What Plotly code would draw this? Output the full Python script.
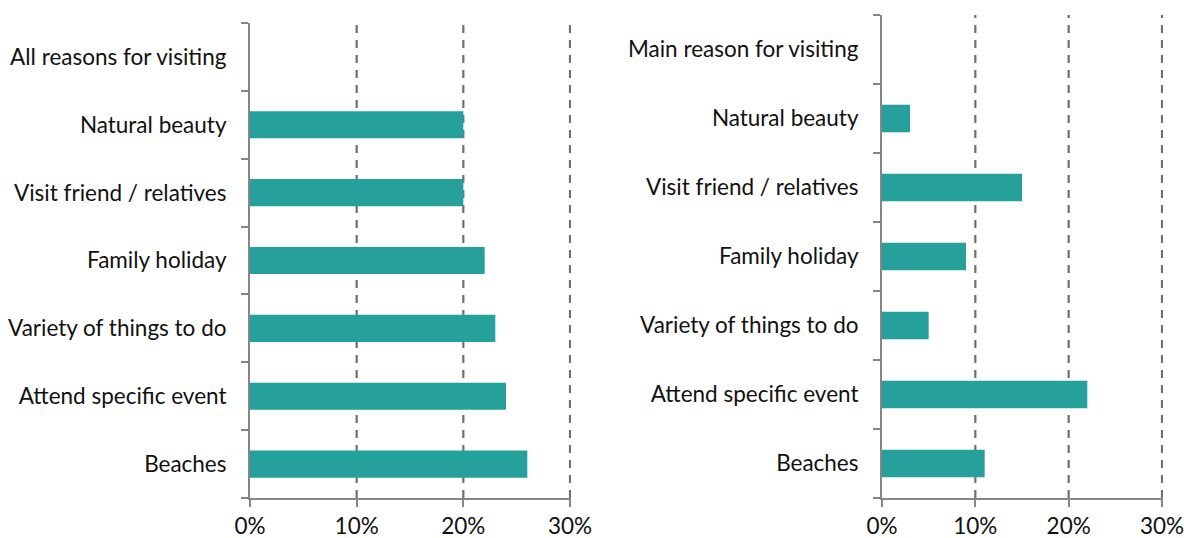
import plotly.graph_objects as go

# Reasons for visiting, top to bottom
categories_all = ["All reasons for visiting", "Natural beauty", "Visit friend / relatives",
                  "Family holiday", "Variety of things to do", "Attend specific event", "Beaches"]
categories_main = ["Main reason for visiting", "Natural beauty", "Visit friend / relatives",
                   "Family holiday", "Variety of things to do", "Attend specific event", "Beaches"]

# Share of visitors (%)
values_all = [None, 20, 20, 22, 23, 24, 26]
values_main = [None, 3, 15, 9, 5, 22, 11]

x_ticks = [0, 10, 20, 30]
x_tick_labels = ["0%", "10%", "20%", "30%"]

BAR = "#26A09A"
AXIS = "#868686"
GRID = "#707070"
FONT = dict(family="Lato, Open Sans, sans-serif", size=22.5, color="#111111")

W, H = 1184, 538
X_MAX = 30.1  # a hair past 30% so the last dashed line is not clipped

fig = go.Figure()

fig.add_trace(go.Bar(
    x=values_all, y=categories_all, orientation="h",
    marker=dict(color=BAR, line=dict(width=0)),
    xaxis="x", yaxis="y", width=0.4, showlegend=False,
))
fig.add_trace(go.Bar(
    x=values_main, y=categories_main, orientation="h",
    marker=dict(color=BAR, line=dict(width=0)),
    xaxis="x2", yaxis="y2", width=0.4, showlegend=False,
))

def xaxis(domain, anchor):
    return dict(
        domain=domain, anchor=anchor, range=[0, X_MAX],
        tickvals=x_ticks, ticktext=x_tick_labels,
        showgrid=False,
        showline=True, linecolor=AXIS, linewidth=2,
        ticks="outside", ticklen=7, tickwidth=2, tickcolor=AXIS,
        zeroline=False, tickfont=FONT, fixedrange=True, automargin=False,
        ticklabeloverflow="allow",
    )

def yaxis(domain, anchor, cats):
    return dict(
        domain=domain, anchor=anchor, type="category",
        categoryorder="array", categoryarray=cats[::-1],
        showgrid=False, showline=True, linecolor=AXIS, linewidth=2,
        ticks="outside", tickson="boundaries", ticklen=7, tickwidth=2, tickcolor=AXIS,
        ticklabelstandoff=17, tickfont=FONT, zeroline=False, automargin=False,
        ticklabeloverflow="allow",
    )

# Dashed vertical gridlines at each non-zero tick
shapes = []
for xref, yref in (("x", "y domain"), ("x2", "y2 domain")):
    for t in x_ticks[1:]:
        shapes.append(dict(
            type="line", xref=xref, yref=yref, x0=t, x1=t, y0=0, y1=1,
            line=dict(color=GRID, width=2.2, dash="8px,7px"), layer="below",
        ))

left_px = (250, 250 + 320 * X_MAX / 30)
right_px = (882, 882 + 280 * X_MAX / 30)

fig.update_layout(
    width=W, height=H,
    margin=dict(l=0, r=0, t=0, b=0),
    paper_bgcolor="white", plot_bgcolor="white",
    xaxis=xaxis([left_px[0] / W, left_px[1] / W], "y"),
    yaxis=yaxis([1 - 498 / H, 1 - 23 / H], "x", categories_all),
    xaxis2=xaxis([right_px[0] / W, right_px[1] / W], "y2"),
    yaxis2=yaxis([1 - 498 / H, 1 - 15 / H], "x2", categories_main),
    bargap=0.6,
    shapes=shapes,
)

fig.write_html("out.html")
